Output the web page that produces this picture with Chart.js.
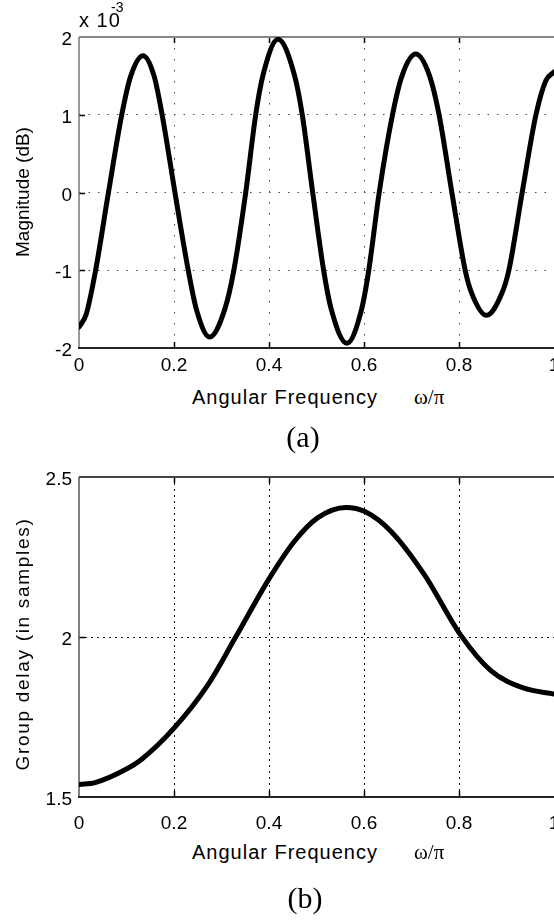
<!DOCTYPE html>
<html lang="en">
<head>
    <meta charset="UTF-8">
    <title>Magnitude and group delay</title>
    <script src="https://cdn.jsdelivr.net/npm/chart.js"></script>
    <style>
        body { margin: 0; background: #fff; }
        #page { position: relative; width: 554px; height: 920px; overflow: hidden;
                font-family: 'Liberation Sans', Arial, sans-serif; color: #000; }
        canvas { position: absolute; left: 0; }
        .txt { position: absolute; white-space: nowrap; line-height: 1; }
        .xtitle { font-size: 20px; letter-spacing: 1px; transform: translateY(-50%); }
        .omega { font-family: 'Liberation Serif', 'Times New Roman', serif; font-size: 21px; transform: translateY(-50%); }
        .caption { font-family: 'Liberation Serif', 'Times New Roman', serif; font-size: 30px; transform: translate(-50%, -50%); }
        .ytitle { font-size: 19px; transform: translate(-50%, -50%) rotate(-90deg); }
    </style>
</head>
<body>
<div id="page">
    <canvas id="magChart" width="554" height="380" style="top:0"></canvas>
    <canvas id="gdChart" width="554" height="400" style="top:440px"></canvas>

    <div class="txt" style="left:79px; top:10px; font-size:20px; letter-spacing:1px">x 10</div>
    <div class="txt" style="left:111px; top:0px; font-size:14px">-3</div>
    <div class="txt ytitle" style="left:22px; top:192px">Magnitude (dB)</div>
    <div class="txt xtitle" style="left:192px; top:397px">Angular Frequency</div>
    <div class="txt omega" style="left:414px; top:397px">ω/π</div>
    <div class="txt caption" style="left:303px; top:437px">(a)</div>

    <div class="txt ytitle" style="left:22px; top:644px; letter-spacing:1.7px">Group delay (in samples)</div>
    <div class="txt xtitle" style="left:192px; top:852px">Angular Frequency</div>
    <div class="txt omega" style="left:414px; top:852px">ω/π</div>
    <div class="txt caption" style="left:305px; top:898px">(b)</div>
</div>

<script>
    // (a) magnitude ripple, in units of 1e-3 dB
    const magFreq = [0, 0.015, 0.035, 0.062, 0.090, 0.109, 0.135, 0.158, 0.175, 0.202, 0.230, 0.247,
                     0.275, 0.307, 0.326, 0.351, 0.372, 0.387, 0.419, 0.454, 0.470, 0.492, 0.515,
                     0.531, 0.564, 0.595, 0.610, 0.632, 0.660, 0.680, 0.709, 0.738, 0.758, 0.785,
                     0.813, 0.827, 0.858, 0.890, 0.905, 0.933, 0.962, 0.983, 1.0];
    const magValues = [-1.73, -1.57, -1.0, 0, 1.0, 1.5, 1.76, 1.5, 1.0, 0, -1.0, -1.5,
                       -1.86, -1.5, -1.0, 0, 1.0, 1.5, 1.97, 1.5, 1.0, 0, -1.0,
                       -1.5, -1.94, -1.5, -1.0, 0, 1.0, 1.5, 1.78, 1.5, 1.0, 0,
                       -1.0, -1.3, -1.58, -1.3, -1.0, 0, 1.0, 1.44, 1.55];
    const magTickLabels = ['-2', '-1', '0', '1', '2'];

    // (b) group delay in samples
    const gdFreq = [0, 0.034, 0.097, 0.132, 0.200, 0.272, 0.328, 0.401, 0.454, 0.503, 0.562,
                    0.602, 0.657, 0.727, 0.804, 0.867, 0.937, 1.0];
    const gdValues = [1.539, 1.545, 1.585, 1.618, 1.715, 1.852, 1.995, 2.184, 2.300, 2.373, 2.405,
                      2.392, 2.330, 2.195, 2.005, 1.895, 1.840, 1.822];
    const gdTickLabels = ['1.5', '2', '2.5'];

    const freqTickLabels = ['0', '0.2', '0.4', '0.6', '0.8', '1'];

    const tickFont = { family: "'Liberation Sans', Arial, sans-serif", size: 19 };

    // frame lines and inward tick marks, like the matlab axes box
    const frameAndTicks = {
        id: 'frameAndTicks',
        beforeDatasetsDraw(chart, args, opts) {
            const { ctx, chartArea: a, scales } = chart;
            const line = (x1, y1, x2, y2) => { ctx.beginPath(); ctx.moveTo(x1, y1); ctx.lineTo(x2, y2); ctx.stroke(); };
            ctx.save();
            ctx.strokeStyle = '#000';
            ctx.lineWidth = 1.5;
            const xt = scales.x.ticks;
            xt.forEach((t, i) => {
                if (i === 0 || i === xt.length - 1) return;
                const px = Math.round(scales.x.getPixelForValue(t.value)) + 0.5;
                line(px, a.top, px, a.top + 6);
                line(px, a.bottom, px, a.bottom - 6);
            });
            const yt = scales.y.ticks;
            yt.forEach((t, i) => {
                if (i === 0 || i === yt.length - 1) return;
                const py = Math.round(scales.y.getPixelForValue(t.value)) + 0.5;
                line(a.left, py, a.left + 6, py);
            });
            ctx.lineWidth = 2;
            ctx.strokeStyle = opts.top;
            line(a.left, a.top, a.right, a.top);
            ctx.strokeStyle = opts.left;
            ctx.lineWidth = 1.5;
            line(a.left, a.top, a.left, a.bottom);
            ctx.lineWidth = 2;
            ctx.strokeStyle = opts.bottom;
            line(a.left - 1, a.bottom, a.right, a.bottom);
            ctx.restore();
        }
    };

    const innerGrid = (color) => (c) => {
        const last = c.scale.ticks.length - 1;
        return (c.index === 0 || c.index === last) ? 'rgba(0,0,0,0)' : color;
    };

    function makeChart(id, xs, ys, yMin, yMax, yStep, yLabels, opt) {
        return new Chart(document.getElementById(id), {
            type: 'line',
            data: {
                datasets: [{
                    data: xs.map((x, i) => ({ x: x, y: ys[i] })),
                    borderColor: '#000',
                    borderWidth: 5,
                    borderCapStyle: 'round',
                    borderJoinStyle: 'round',
                    pointRadius: 0,
                    cubicInterpolationMode: 'monotone',
                    fill: false
                }]
            },
            options: {
                responsive: false,
                animation: false,
                events: [],
                layout: { padding: { top: 37, left: 0, right: 0, bottom: 0 } },
                plugins: {
                    legend: { display: false },
                    tooltip: { enabled: false },
                    frameAndTicks: opt.frame
                },
                scales: {
                    x: {
                        type: 'linear',
                        min: 0, max: 1,
                        grid: { color: innerGrid(opt.gridColor), lineWidth: 1, drawTicks: false },
                        border: { display: false, dash: opt.xDash },
                        ticks: {
                            stepSize: 0.2,
                            padding: opt.xPad,
                            maxRotation: 0,
                            autoSkip: false,
                            color: '#000',
                            font: tickFont,
                            callback: (v, i) => freqTickLabels[i]
                        },
                        afterFit: (s) => { s.height = opt.xHeight; s.paddingLeft = 0; s.paddingRight = 0; }
                    },
                    y: {
                        min: yMin, max: yMax,
                        grid: { color: innerGrid(opt.gridColor), lineWidth: 1, drawTicks: false },
                        border: { display: false, dash: opt.yDash },
                        ticks: {
                            stepSize: yStep,
                            padding: 7,
                            labelOffset: 3,
                            color: '#000',
                            font: tickFont,
                            callback: (v, i) => yLabels[i]
                        },
                        afterFit: (s) => { s.width = 79; s.paddingTop = 0; s.paddingBottom = 0; }
                    }
                }
            },
            plugins: [frameAndTicks]
        });
    }

    makeChart('magChart', magFreq, magValues, -2, 2, 1, magTickLabels, {
        xHeight: 32, xPad: 6,
        gridColor: '#444', xDash: [1.5, 9.5], yDash: [1.5, 8],
        frame: { top: '#888', left: '#777', bottom: '#222' }
    });

    makeChart('gdChart', gdFreq, gdValues, 1.5, 2.5, 0.5, gdTickLabels, {
        xHeight: 43, xPad: 15,
        gridColor: '#111', xDash: [2, 4], yDash: [2, 4],
        frame: { top: '#444', left: '#555', bottom: '#222' }
    });
</script>
</body>
</html>
